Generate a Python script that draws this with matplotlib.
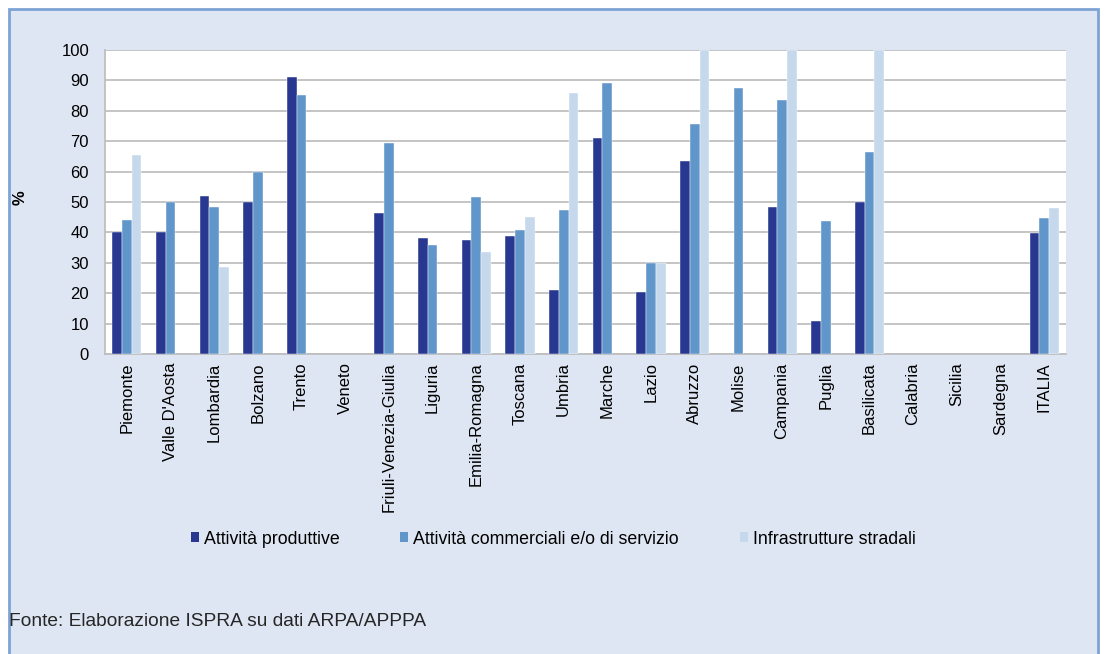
import matplotlib.pyplot as plt
import numpy as np
from matplotlib.patches import Rectangle, Patch

plt.rcParams['font.family'] = ['Liberation Sans', 'DejaVu Sans']

regioni = ['Piemonte', "Valle D'Aosta", 'Lombardia', 'Bolzano', 'Trento', 'Veneto',
           'Friuli-Venezia-Giulia', 'Liguria', 'Emilia-Romagna', 'Toscana', 'Umbria',
           'Marche', 'Lazio', 'Abruzzo', 'Molise', 'Campania', 'Puglia', 'Basilicata',
           'Calabria', 'Sicilia', 'Sardegna', 'ITALIA']
# nan = dato non disponibile
produttive = [40, 40, 52, 50, 91, np.nan, 46.3, 38, 37.5, 38.9, 21.2,
              70.9, 20.5, 63.6, np.nan, 48.5, 11, 50, np.nan, np.nan, np.nan, 39.8]
commerciali = [44.2, 50, 48.2, 60, 85.3, np.nan, 69.5, 36, 51.5, 40.7, 47.4,
               89, 29.9, 75.6, 87.5, 83.5, 43.8, 66.6, np.nan, np.nan, np.nan, 44.9]
stradali = [65.4, np.nan, 28.5, np.nan, np.nan, np.nan, np.nan, np.nan, 33.4, 45.1, 85.8,
            np.nan, 29.9, 100, np.nan, 100, np.nan, 100, np.nan, np.nan, np.nan, 47.9]

serie = ['Attività produttive', 'Attività commerciali e/o di servizio', 'Infrastrutture stradali']
colori = ['#283891', '#6096C9', '#C5D8EC']

fig = plt.figure(figsize=(11.08, 6.54), dpi=100)
fig.patch.set_facecolor('white')
W, H = 1108, 654
# cornice azzurra
fig.patches.append(Rectangle((9 / W, -0.05), (1098 - 9) / W, (654 - 9) / H + 0.05,
                             transform=fig.transFigure, facecolor='#DFE6F3',
                             edgecolor='#7DA3D4', linewidth=2, zorder=-5))

ax = fig.add_axes([105 / W, 1 - 354 / H, (1066 - 105) / W, (354 - 50) / H], zorder=2)
ax.set_facecolor('white')

x = np.arange(len(regioni))
bw = 0.222
for i, (vals, col, lab) in enumerate(zip([produttive, commerciali, stradali], colori, serie)):
    ax.bar(x + (i - 1) * bw, vals, width=bw, color=col, label=lab, zorder=3,
           edgecolor='white', linewidth=0.3)

ax.set_xlim(-0.5, len(regioni) - 0.5)
ax.set_ylim(0, 100)
ax.set_yticks(range(0, 101, 10))
ax.yaxis.grid(True, color='#BFBFBF', linewidth=1.3, zorder=0)
ax.set_axisbelow(True)
ax.set_xticks(x)
ax.set_xticklabels(regioni, rotation=90, fontsize=12)
ax.tick_params(axis='y', labelsize=12, length=0, pad=11.5)
ax.tick_params(axis='x', length=0, pad=6)
for s in ['top', 'right']:
    ax.spines[s].set_visible(False)
for s in ['left', 'bottom']:
    ax.spines[s].set_color('#BFBFBF')
    ax.spines[s].set_linewidth(1.3)

fig.text(20 / W, 1 - 198 / H, '%', rotation=90, fontsize=12, fontweight='bold',
         ha='center', va='center')

# legenda: tre voci posizionate come nell'originale
pos_leg = [191, 400, 740]
for col, lab, px in zip(colori, serie, pos_leg):
    fig.legend([Patch(facecolor=col, edgecolor='none')], [lab], loc='center left',
               bbox_to_anchor=(px / W, 1 - 539 / H), frameon=False, fontsize=12.8,
               handlelength=0.45, handleheight=0.45, handletextpad=0.3,
               borderpad=0, borderaxespad=0)

fig.text(9 / W, 1 - 622 / H, 'Fonte: Elaborazione ISPRA su dati ARPA/APPPA',
         fontsize=13.8, ha='left', va='center', color='#262626')

fig.savefig('out.png', dpi=100)
